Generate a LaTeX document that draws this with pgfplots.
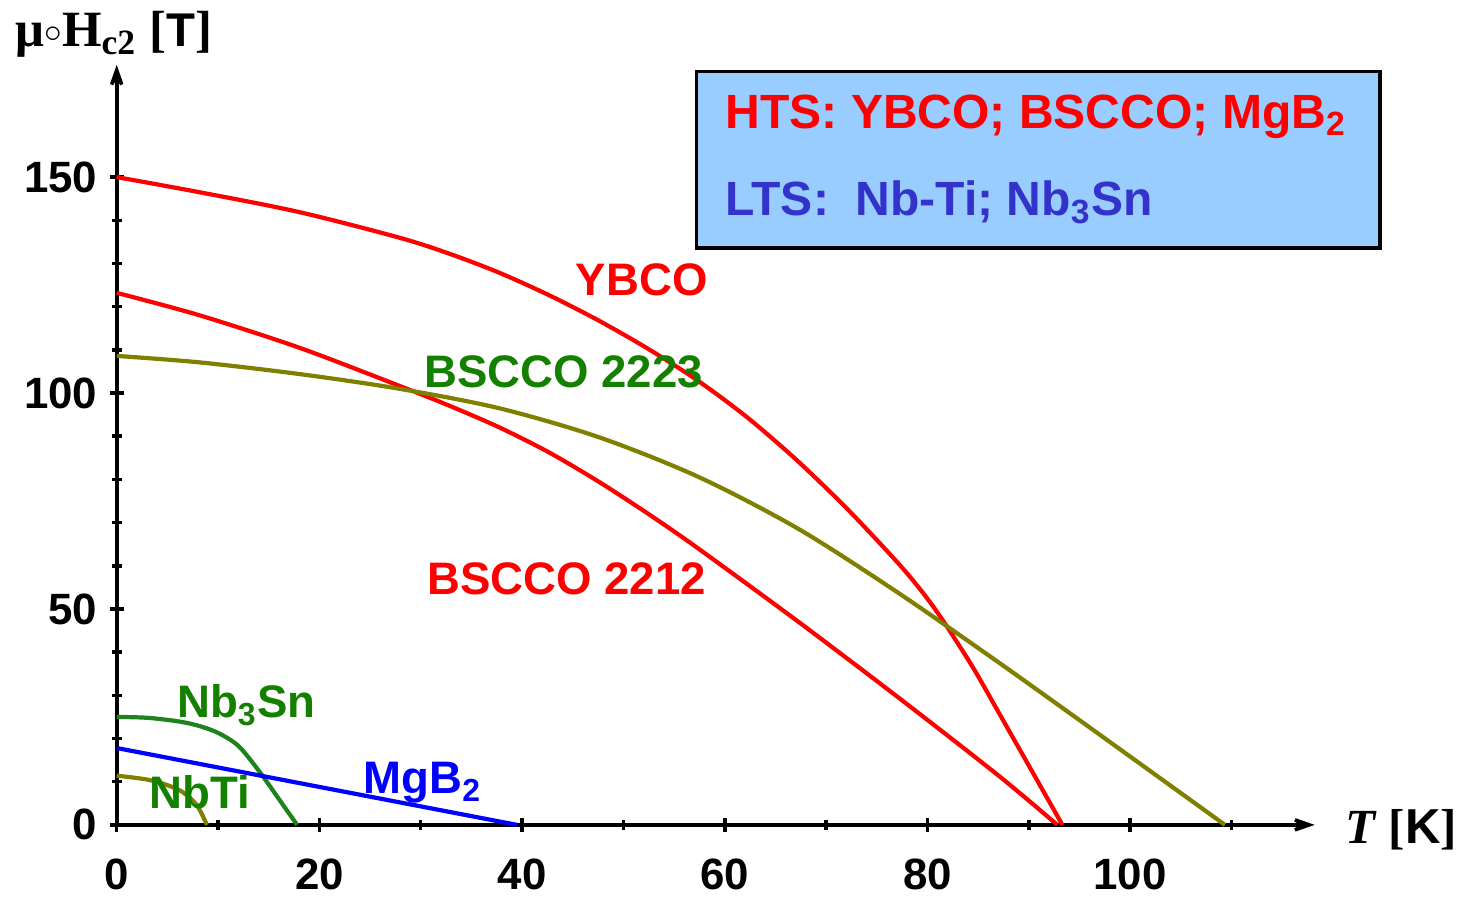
\documentclass[border=0pt]{standalone}
\usepackage{pgfplots}
\pgfplotsset{compat=1.18}
\usepackage{fontspec}
\setmainfont{Liberation Sans}
\newfontfamily\seriffont{Liberation Serif}
\newfontfamily\sansfont{Liberation Sans}
\usetikzlibrary{arrows.meta}
\definecolor{olivec}{RGB}{128,128,0}
\definecolor{greenc}{RGB}{30,130,30}
\definecolor{greent}{RGB}{20,128,0}
\definecolor{boxblue}{RGB}{153,204,255}
\definecolor{ltsblue}{RGB}{51,51,204}
\begin{document}
\begin{tikzpicture}
\path (0,0) rectangle (145.7mm,89.6mm);
\begin{axis}[
  at={(11.7mm,6.9mm)}, anchor=south west,
  scale only axis, width=120.1mm, height=76.2mm,
  xmin=0, xmax=118.2, ymin=0, ymax=176,
  axis lines=left,
  axis line style={line width=1.1pt, -{Stealth[length=4mm,width=2.8mm,inset=2.6mm]}},
  tick style={line width=1pt, black},
  major tick length=1.4mm, minor tick length=1mm,
  xtick={0,20,40,60,80,100}, minor xtick={10,30,50,70,90,110},
  ytick={0,50,100,150}, minor ytick={10,20,30,40,60,70,80,90,110,120,130,140},
  /pgf/number format/assume math mode=true,
  tick label style={font=\bfseries\fontsize{12.5}{12.5}\selectfont},
  xticklabel style={yshift=-1.5mm},
  clip=false,
]
% YBCO
\addplot[red, line width=1.2pt, smooth] coordinates {
(0,150.0) (8.17,146.5) (18.01,141.9) (27.85,136.0) (32.78,132.3) (37.70,127.9)
(42.62,122.7) (47.54,116.8) (52.46,110.2) (57.38,102.8) (62.30,94.2) (67.22,84.2)
(72.15,73.0) (77.07,60.7) (79.53,53.8) (81.50,47.4) (84.45,36.6) (86.91,26.5)
(89.86,14.3) (93.31,0)};
% BSCCO 2212
\addplot[red, line width=1.2pt, smooth] coordinates {
(0,123.2) (8.17,118.0) (18.01,110.5) (27.85,101.7) (32.78,97.1) (37.70,92.1)
(42.62,86.3) (47.54,79.5) (52.46,72.0) (57.38,64.0) (67.22,47.1) (77.07,29.6)
(86.91,11.6) (92.81,0)};
% BSCCO 2223
\addplot[olivec, line width=1.2pt, smooth] coordinates {
(0,108.6) (8.17,107.1) (18.01,104.4) (27.85,101.0) (37.70,96.5) (47.54,89.8)
(57.38,80.6) (67.22,68.6) (77.07,53.8) (86.91,37.8) (96.75,21.3) (109.35,0)};
% Nb3Sn
\addplot[greenc, line width=1.2pt, smooth] coordinates {
(0,25.0) (3,24.8) (6,24.0) (8,23.0) (10,21.3) (12,18.3) (14,12.6) (16,6.0) (17.8,0)};
% NbTi
\addplot[olivec, line width=1.2pt, smooth] coordinates {
(0,11.4) (3,10.5) (5,9.2) (6.5,7.6) (7.9,4.6) (8.9,0)};
% MgB2
\addplot[blue, line width=1.2pt] coordinates {(0,17.8) (39.5,0)};

\begin{scope}[every node/.style={font=\bfseries\fontsize{13}{13}\selectfont, inner sep=0}]
\node[text=red] at (axis cs:51.8,126.2) {YBCO};
\node[text=greent] at (axis cs:44.1,104.9) {BSCCO 2223};
\node[text=red] at (axis cs:44.4,56.9) {BSCCO 2212};
\node[text=greent] at (axis cs:12.8,27.7) {Nb\textsubscript{3}Sn};
\node[text=greent] at (axis cs:8.2,7.6) {NbTi};
\node[text=blue] at (axis cs:30.2,9.7) {MgB\textsubscript{2}};
\end{scope}
\end{axis}
\node[draw=black, line width=0.9pt, fill=boxblue, minimum width=68.5mm, minimum height=17.7mm, anchor=north west, inner sep=0] at (69.7mm,82.6mm) {};
\node[anchor=west, inner sep=0, text=red, font=\bfseries\fontsize{13.7}{13.7}\selectfont] at (72.7mm,77.9mm) {HTS: YBCO; BSCCO; MgB\textsubscript{2}};
\node[anchor=west, inner sep=0, text=ltsblue, font=\bfseries\fontsize{13.7}{13.7}\selectfont] at (72.7mm,69.3mm) {LTS:\ \ Nb-Ti; Nb\textsubscript{3}Sn};
\node[anchor=north west, inner sep=0] at (1.5mm,88.5mm) {\seriffont\bfseries\fontsize{14.5}{14.5}\selectfont μ\raisebox{0.2ex}{$\scriptstyle\circ$}H\textsubscript{c2} [{\sansfont\fontsize{13.5}{13.5}\selectfont T}]};
\node[anchor=west, inner sep=0] at (134.8mm,6.4mm) {\bfseries\fontsize{14}{14}\selectfont{\seriffont\itshape T} {\seriffont [}K{\seriffont ]}};
\end{tikzpicture}
\end{document}
